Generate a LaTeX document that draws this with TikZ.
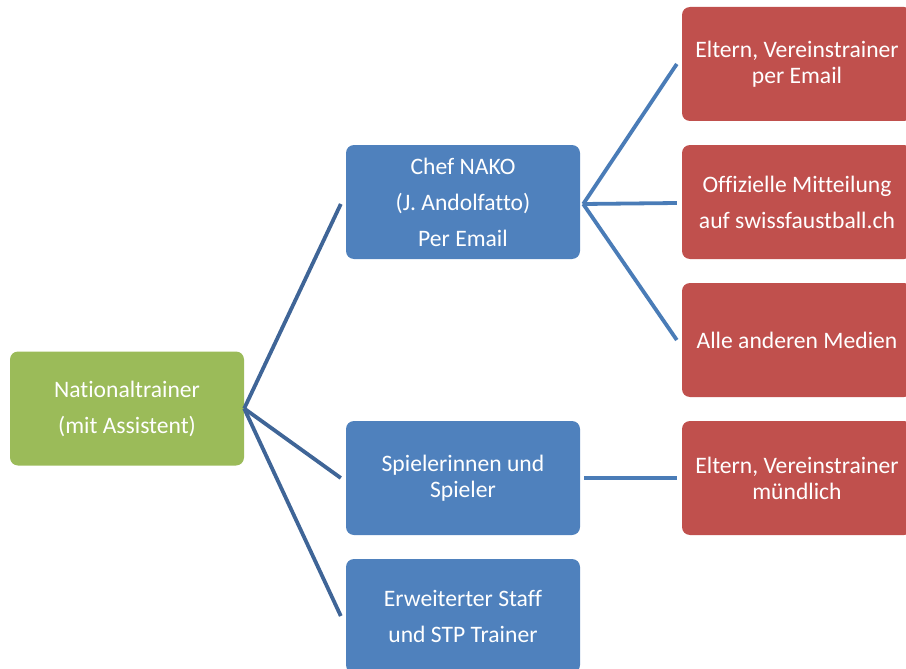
\documentclass[tikz,border=0pt]{standalone}
\usepackage{fontspec}
\setmainfont{Carlito}[RawFeature=-liga]
\begin{document}
\begin{tikzpicture}[x=1pt,y=-1pt,
  box/.style={rectangle, rounded corners=8pt, minimum width=234pt, minimum height=114pt,
    inner sep=0pt, align=center, text=white, anchor=center},
  wide/.style={font=\fontsize{23.6}{36}\selectfont},
  tight/.style={font=\fontsize{23.6}{26}\selectfont},
  greenbox/.style={box, fill=trgreen},
  bluebox/.style={box, fill=trblue},
  redbox/.style={box, fill=trred, minimum width=230pt},
  link/.style={draw=linkblue, line width=3.8pt},
  sublink/.style={draw=sublinkblue, line width=3.8pt}]
\definecolor{trgreen}{HTML}{9BBB59}
\definecolor{trblue}{HTML}{4F81BD}
\definecolor{trred}{HTML}{C0504D}
\definecolor{linkblue}{HTML}{3F6597}
\definecolor{sublinkblue}{HTML}{4A7CB7}
\useasboundingbox (0,0) rectangle (906,669);
\clip (0,0) rectangle (906,669);

% head of the tree
\node[greenbox, wide] (nt) at (127,408.5) {Nationaltrainer\\(mit Assistent)};

% second level
\node[bluebox, wide]  (chef)  at (463,202) {Chef NAKO\\(J. Andolfatto)\\Per Email};
\node[bluebox, tight] (spl)   at (463,478) {Spielerinnen und\\Spieler};
\node[bluebox, wide]  (staff) at (463,616) {Erweiterter Staff\\und STP Trainer};

% third level
\node[redbox, tight] (eltmail) at (797,64)  {Eltern, Vereinstrainer\\per Email};
\node[redbox, wide]  (offiz)   at (797,202) {Offizielle Mitteilung\\auf swissfaustball.ch};
\node[redbox, tight] (medien)  at (797,340) {Alle anderen Medien};
\node[redbox, tight] (eltmund) at (797,478) {Eltern, Vereinstrainer\\mündlich};

% connectors from the head
\draw[link] (nt.east) -- ([xshift=-5pt,yshift=-2pt]chef.west);
\draw[link] (nt.east) -- ([xshift=-5pt]spl.west);
\draw[link] (nt.east) -- ([xshift=-5pt]staff.west);

% connectors from Chef NAKO
\coordinate (chefout) at ([xshift=3pt,yshift=-2pt]chef.east);
\draw[sublink] (chefout) -- ([xshift=-5pt]eltmail.west);
\draw[sublink] (chefout) -- ([xshift=-5pt,yshift=-1pt]offiz.west);
\draw[sublink] (chefout) -- ([xshift=-5pt]medien.west);

% connector from the players
\draw[sublink] ([xshift=4pt]spl.east) -- ([xshift=-5pt]eltmund.west);
\end{tikzpicture}
\end{document}
